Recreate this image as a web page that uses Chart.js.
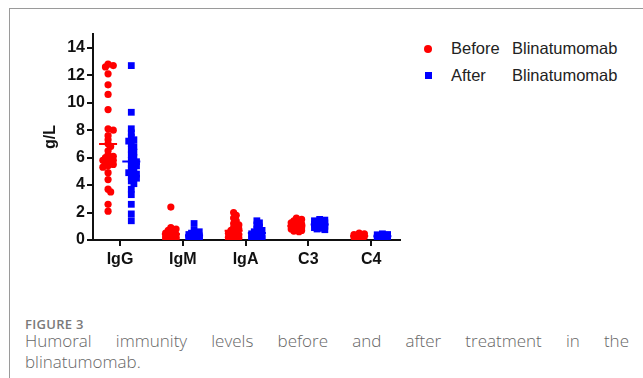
<!DOCTYPE html>
<html>
<head>
<meta charset="utf-8">
<script src="https://cdn.jsdelivr.net/npm/chart.js@4"></script>
<style>
  body { margin: 0; background: #fff; }
  #wrap { position: relative; width: 643px; height: 378px; overflow: hidden; background: #fff; }
  #frame { position: absolute; left: 9px; top: 8px; width: 640px; height: 380px; border-left: 1px solid #9a9a9a; border-top: 1px solid #9a9a9a; }
  #chartBox { position: absolute; left: 0; top: 0; width: 420px; height: 280px; }
  .leg { position: absolute; font: 16.5px "Liberation Sans", Arial, sans-serif; color: #222; }
  .cap1 { position: absolute; left: 25px; top: 315px; font: 600 13px "Open Sans", sans-serif; color: #7a7a7a; letter-spacing: 0.3px; }
  .cap2 { position: absolute; left: 25px; width: 604px; font: 300 17px "Open Sans", sans-serif; color: #666; text-align: justify; text-align-last: justify; white-space: nowrap; }
  .cap3 { position: absolute; left: 25px; font: 300 17px "Open Sans", sans-serif; color: #666; }
</style>
</head>
<body>
<div id="wrap">
  <div id="frame"></div>
  <div id="chartBox"><canvas id="chart" width="420" height="280"></canvas></div>
  <div style="position:absolute;left:424px;top:45px;width:8px;height:8px;border-radius:50%;background:#ff0000"></div>
  <div class="leg" style="left:451px;top:39px">Before</div>
  <div class="leg" style="left:512px;top:39px">Blinatumomab</div>
  <div style="position:absolute;left:425px;top:72px;width:7px;height:7px;background:#0000ff"></div>
  <div class="leg" style="left:451px;top:66px">After</div>
  <div class="leg" style="left:512px;top:66px">Blinatumomab</div>
  <div class="cap1">FIGURE 3</div>
  <div class="cap2" style="top:329px">Humoral immunity levels before and after treatment in the</div>
  <div class="cap3" style="top:350px">blinatumomab.</div>
</div>
<script>
const categories = ["IgG", "IgM", "IgA", "C3", "C4"];
const yTicks = [0, 2, 4, 6, 8, 10, 12, 14];

// g/L values, one array per group
const beforeIgG = [12.8, 12.7, 12.6, 12.1, 11.3, 10.6, 9.5, 8.1, 8.0, 7.6, 7.3, 7.0, 6.8, 6.5, 6.2, 6.1, 6.0, 6.0, 5.9, 5.8, 5.8, 5.7, 5.6, 5.5, 5.4, 5.3, 4.9, 4.4, 3.7, 3.5, 2.6, 2.1];
const afterIgG = [12.7, 9.3, 8.1, 7.8, 7.5, 7.3, 7.2, 7.0, 6.8, 6.6, 6.4, 6.2, 6.0, 5.8, 5.7, 5.5, 5.4, 5.2, 5.0, 4.9, 4.8, 4.6, 4.5, 4.3, 4.1, 3.7, 3.3, 2.6, 1.9, 1.4];
const beforeIgM = [2.4, 0.9, 0.8, 0.7, 0.6, 0.5, 0.45, 0.4, 0.35, 0.3, 0.3, 0.25, 0.2, 0.2, 0.15, 0.1, 0.1, 0.05, 0.05, 0.02];
const afterIgM = [1.2, 0.7, 0.6, 0.5, 0.45, 0.4, 0.35, 0.3, 0.3, 0.25, 0.2, 0.2, 0.15, 0.15, 0.1, 0.1, 0.05, 0.05, 0.02];
const beforeIgA = [2.0, 1.8, 1.6, 1.4, 1.2, 1.1, 0.9, 0.8, 0.7, 0.6, 0.5, 0.45, 0.4, 0.3, 0.3, 0.25, 0.2, 0.15, 0.1, 0.1, 0.05, 0.02];
const afterIgA = [1.4, 1.25, 1.1, 0.95, 0.8, 0.7, 0.6, 0.5, 0.45, 0.4, 0.3, 0.3, 0.25, 0.2, 0.15, 0.1, 0.1, 0.05, 0.02];
const beforeC3 = [1.6, 1.5, 1.4, 1.3, 1.25, 1.2, 1.15, 1.1, 1.05, 1.0, 0.95, 0.9, 0.9, 0.85, 0.8, 0.75, 0.7, 0.65, 0.6];
const afterC3 = [1.5, 1.45, 1.4, 1.35, 1.3, 1.25, 1.2, 1.15, 1.1, 1.05, 1.0, 0.95, 0.9, 0.85, 0.8, 0.75];
const beforeC4 = [0.5, 0.45, 0.4, 0.35, 0.3, 0.3, 0.25, 0.2, 0.2, 0.15, 0.1];
const afterC4 = [0.45, 0.4, 0.38, 0.35, 0.3, 0.3, 0.25, 0.2, 0.2, 0.15, 0.12];

const beforeGroups = [beforeIgG, beforeIgM, beforeIgA, beforeC3, beforeC4];
const afterGroups = [afterIgG, afterIgM, afterIgA, afterC3, afterC4];

const X_MIN = 0.57, X_MAX = 5.46, Y_MAX = 15;
const X_PX = 307 / (X_MAX - X_MIN);
const Y_PX = 206 / Y_MAX;

// simple beeswarm so overlapping dots spread sideways like GraphPad does
function swarm(values, center) {
  const placed = [];
  const out = [];
  const sorted = values.slice().sort((a, b) => b - a);
  sorted.forEach(v => {
    const yPx = v * Y_PX;
    let best = 0, bestD = -1;
    for (const k of [0, 1, -1, 2, -2]) {
      const xPx = k * 2.6;
      let minD = Infinity;
      placed.forEach(p => {
        const d = Math.hypot(p.x - xPx, p.y - yPx);
        if (d < minD) minD = d;
      });
      if (minD >= 3) { best = xPx; break; }
      if (minD > bestD) { bestD = minD; best = xPx; }
    }
    placed.push({ x: best, y: yPx });
    out.push({ x: center + best / X_PX, y: v });
  });
  return out;
}

const beforePoints = [];
const afterPoints = [];
beforeGroups.forEach((g, i) => beforePoints.push(...swarm(g, i + 1 - 0.19)));
afterGroups.forEach((g, i) => afterPoints.push(...swarm(g, i + 1 + 0.18)));

// mean +/- SEM marks drawn on top of the dots
const meanSemPlugin = {
  id: "meanSem",
  afterDatasetsDraw(chart) {
    const ctx = chart.ctx;
    const xs = chart.scales.x, ys = chart.scales.y;
    [[beforeGroups, -0.19, "#ff0000"], [afterGroups, 0.18, "#0000ff"]].forEach(([groups, off, color]) => {
      groups.forEach((g, i) => {
        const n = g.length;
        const mean = g.reduce((s, v) => s + v, 0) / n;
        const sd = Math.sqrt(g.reduce((s, v) => s + (v - mean) ** 2, 0) / (n - 1));
        const sem = sd / Math.sqrt(n);
        const cx = xs.getPixelForValue(i + 1 + off);
        ctx.save();
        ctx.strokeStyle = color;
        ctx.lineWidth = 2;
        ctx.beginPath();
        ctx.moveTo(cx - 9, ys.getPixelForValue(mean));
        ctx.lineTo(cx + 9, ys.getPixelForValue(mean));
        ctx.moveTo(cx, ys.getPixelForValue(mean - sem));
        ctx.lineTo(cx, ys.getPixelForValue(mean + sem));
        ctx.stroke();
        ctx.restore();
      });
    });
  }
};

const boldFont = { family: "'Liberation Sans', Arial, sans-serif", size: 16, weight: "bold" };

new Chart(document.getElementById("chart"), {
  type: "scatter",
  data: {
    datasets: [
      { label: "Before  Blinatumomab", data: beforePoints, pointStyle: "circle", pointRadius: 3.6, backgroundColor: "#ff0000", borderWidth: 0 },
      { label: "After     Blinatumomab", data: afterPoints, pointStyle: "rect", pointRadius: 4.8, backgroundColor: "#0000ff", borderWidth: 0 }
    ]
  },
  options: {
    responsive: false,
    animation: false,
    layout: { padding: { left: 41, right: 20, top: 34, bottom: 0 } },
    plugins: { legend: { display: false }, tooltip: { enabled: false } },
    scales: {
      x: {
        type: "linear",
        min: X_MIN,
        max: X_MAX,
        afterBuildTicks: s => { s.ticks = categories.map((c, i) => ({ value: i + 1 })); },
        afterFit: s => { s.height = 40; },
        ticks: { callback: v => categories[v - 1], color: "#111", font: boldFont, padding: 4, autoSkip: false, maxRotation: 0 },
        grid: { drawOnChartArea: false, tickLength: 6, color: "#111", lineWidth: 2 },
        border: { color: "#111", width: 2 }
      },
      y: {
        min: 0,
        max: Y_MAX,
        afterBuildTicks: s => { s.ticks = yTicks.map(v => ({ value: v })); },
        afterFit: s => { s.width = 52; },
        ticks: { color: "#111", font: boldFont, padding: 2, autoSkip: false },
        grid: { drawOnChartArea: false, tickLength: 6, color: "#111", lineWidth: 2 },
        border: { color: "#111", width: 2 },
        title: { display: true, text: "g/L", color: "#111", font: boldFont, padding: 0 }
      }
    }
  },
  plugins: [meanSemPlugin]
});
</script>
</body>
</html>
